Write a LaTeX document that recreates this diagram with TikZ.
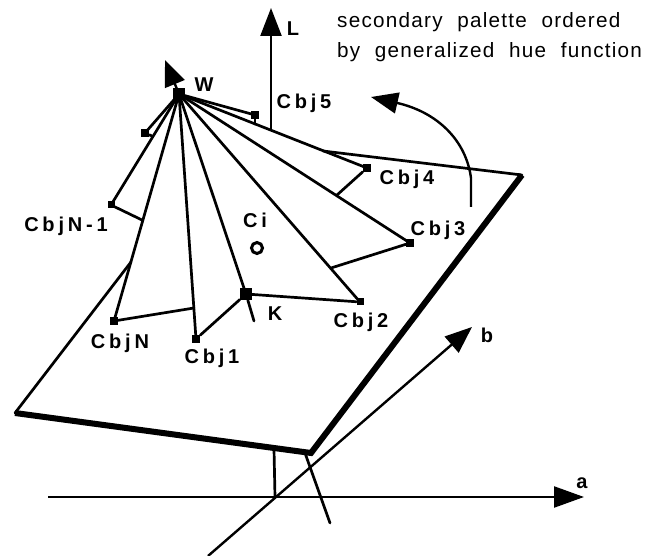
\documentclass[tikz,border=0pt]{standalone}
\usepackage{fontspec}
\setsansfont{Liberation Sans}
\newfontfamily\lblfont[LetterSpace=19,WordSpace=1]{Liberation Sans Bold}
\newfontfamily\captfont[LetterSpace=6,WordSpace=2.1]{Liberation Sans}
\usetikzlibrary{
  arrows.meta,
  shapes.geometric
}
\tikzset{
  % Small palette point
  pnt/.style={
    rectangle, fill=black, inner sep=0pt, minimum size=#1
  },
  % Open circle for the input colour
  ring/.style={
    circle, draw=black, line width=3pt, fill=white,
    inner sep=0pt, minimum size=11pt
  },
  % Text labels
  lbl/.style={font=\lblfont\fontsize{20}{22}\selectfont, inner sep=0pt},
  capt/.style={
    font=\captfont\fontsize{20.7}{30.5}\selectfont,
    align=left, anchor=west, inner sep=0pt
  },
  % Lines
  edge/.style={line width=2.7pt, line cap=round, line join=round},
  rim/.style={line width=6pt, line join=miter},
  % Axis arrow
  arr/.style={
    -{Triangle[length=#1,width=21pt]},
    line width=2.4pt
  }
}

\begin{document}
\begin{tikzpicture}[x=1pt,y=-1pt]
  \useasboundingbox (0,0) rectangle (654,556);

  % ---- PALETTE POINTS ----
  \node[pnt=12pt] (w)     at (179,94)  {};
  \node[pnt=12pt] (k)     at (246,294) {};
  \node[pnt=8pt]  (cbj1)  at (196,339) {};
  \node[pnt=7pt]  (cbj2)  at (360,302) {};
  \node[pnt=8pt]  (cbj3)  at (410,243) {};
  \node[pnt=8pt]  (cbj4)  at (367,168) {};
  \node[pnt=8pt]  (cbj5)  at (255,115) {};
  \node[pnt=8pt]  (cbjx)  at (145,133) {};
  \node[pnt=7pt]  (cbjn1) at (111,205) {};
  \node[pnt=8pt]  (cbjn)  at (114,321) {};
  \node[ring]     (ci)    at (257,248) {};

  % ---- FREE ENDS ----
  \coordinate (pa) at (15,413);
  \coordinate (pb) at (311,453);
  \coordinate (pc) at (522,175);
  \coordinate (pd) at (323,151);
  \coordinate (pe) at (131,262);
  \coordinate (j5) at (255,124);
  \coordinate (jx) at (152,136);
  \coordinate (jn1) at (142,220);
  \coordinate (jn) at (194,308);
  \coordinate (j4) at (337,195);
  \coordinate (j3) at (331,268);
  \coordinate (ktail) at (254,321);
  \coordinate (wtip) at (165,60);
  \coordinate (lbase) at (271,130);
  \coordinate (ltip) at (271,8);
  \coordinate (origin) at (275,497);
  \coordinate (astart) at (48,497);
  \coordinate (atip) at (584,497);
  \coordinate (bstart) at (208,556);
  \coordinate (btip) at (472,327);
  \coordinate (pfoot) at (274,449);
  \coordinate (nstart) at (305,453);
  \coordinate (nend) at (330,523);
  \coordinate (hstart) at (471,207);
  \coordinate (hbend) at (471,178);
  \coordinate (htip) at (371,97);

  % ---- PLANE ----
  \draw[edge] (pc) -- (pd);
  \draw[edge] (pe) -- (pa);
  \draw[rim] (pa) -- (pb) -- (pc);

  % ---- AXES ----
  \draw[arr=30pt] (astart) -- (atip);
  \draw[arr=27pt] (bstart) -- (btip);
  \draw[arr=28pt] (lbase) -- (ltip);
  \draw[arr=26pt] (w.center) -- (wtip);
  \draw[edge] (pfoot) -- (origin);
  \draw[edge] (nstart) -- (nend);

  % ---- RAYS FROM W ----
  \foreach \p in {cbj1,cbj2,cbj3,cbj4,cbj5,cbjx,cbjn1,cbjn,k}
    \draw[edge] (w.center) -- (\p.center);

  % ---- LINKS ----
  \draw[edge] (cbj5) -- (j5);
  \draw[edge] (cbj4) -- (j4);
  \draw[edge] (cbj3) -- (j3);
  \draw[edge] (cbj2) -- (k);
  \draw[edge] (cbj1) -- (k);
  \draw[edge] (k) -- (ktail);
  \draw[edge] (cbjn) -- (jn);
  \draw[edge] (cbjn1) -- (jn1);
  \draw[edge] (cbjx) -- (jx);

  % ---- HUE ARROW ----
  \draw[arr=27pt] (hstart) -- (hbend)
    .. controls (466,140) and (437,112) .. (htip);

  % ---- LABELS ----
  \node[lbl] (lw)  at (204,85)  {W};
  \node[lbl] (ll)  at (293,29)  {L};
  \node[lbl] (l5)  at (304,103) {Cbj5};
  \node[lbl] (l4)  at (407,179) {Cbj4};
  \node[lbl] (l3)  at (438,230) {Cbj3};
  \node[lbl] (l2)  at (361,322) {Cbj2};
  \node[lbl] (l1)  at (212,358) {Cbj1};
  \node[lbl] (ln)  at (120,343) {CbjN};
  \node[lbl] (ln1) at (66,226)  {CbjN-1};
  \node[lbl] (lc)  at (255,220) {Ci};
  \node[lbl] (lk)  at (275,314) {K};
  \node[lbl] (la)  at (582,483) {a};
  \node[lbl] (lb)  at (487,335) {b};
  \node[capt] (cap) at (337,37) {secondary palette ordered\\by generalized hue function};

\end{tikzpicture}
\end{document}
